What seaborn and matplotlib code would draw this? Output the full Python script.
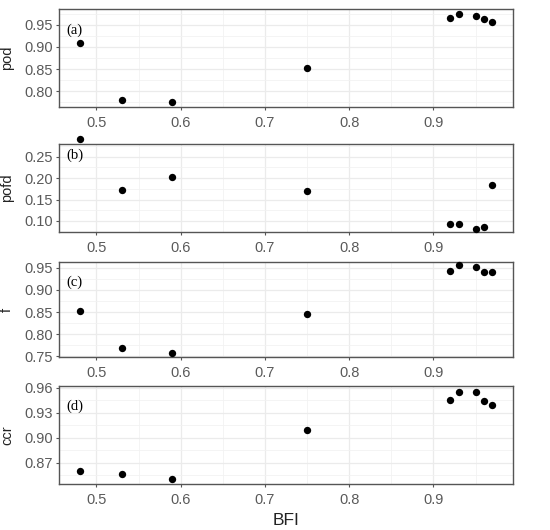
import matplotlib
matplotlib.use("Agg")
import matplotlib.pyplot as plt
import seaborn as sns
import pandas as pd
from matplotlib.ticker import MultipleLocator, FormatStrFormatter

# data
bfi = [0.48, 0.53, 0.59, 0.75, 0.92, 0.93, 0.95, 0.96, 0.97]
pod = [0.910, 0.780, 0.775, 0.852, 0.965, 0.975, 0.970, 0.963, 0.956]
pofd = [0.291, 0.172, 0.203, 0.169, 0.092, 0.092, 0.082, 0.087, 0.184]
f = [0.853, 0.768, 0.758, 0.846, 0.943, 0.955, 0.952, 0.940, 0.940]
ccr = [0.860, 0.857, 0.850, 0.909, 0.946, 0.955, 0.955, 0.944, 0.940]

df = pd.DataFrame({'BFI': bfi, 'pod': pod, 'pofd': pofd, 'f': f, 'ccr': ccr})

panels = ['pod', 'pofd', 'f', 'ccr']
tags = ['(a)', '(b)', '(c)', '(d)']
ylims = [(0.764, 0.986), (0.0736, 0.2796), (0.748, 0.9634), (0.844, 0.9624)]
ysteps = [0.05, 0.05, 0.05, 0.03]
tag_y = [0.786, 0.875, 0.788, 0.797]
# pixel rows of the panels (top, bottom)
rows = [(9, 107), (144, 232.3), (261.7, 357.3), (386, 484.3)]

sns.set_theme(style='white')
plt.rcParams['font.family'] = ['Liberation Sans', 'DejaVu Sans']

W, H = 550, 530
fig = plt.figure(figsize=(5.5, 5.3), dpi=100)

for i, col in enumerate(panels):
    top, bot = rows[i]
    ax = fig.add_axes([59 / W, 1 - bot / H, (513 - 59) / W, (bot - top) / H])
    sns.scatterplot(data=df, x='BFI', y=col, ax=ax, color='black', s=28,
                    edgecolor='black', linewidth=0, clip_on=False, zorder=5)
    ax.set_xlim(0.4555, 0.9945)
    ax.set_ylim(*ylims[i])
    ax.xaxis.set_major_locator(MultipleLocator(0.1))
    ax.xaxis.set_minor_locator(MultipleLocator(0.05))
    ax.yaxis.set_major_locator(MultipleLocator(ysteps[i]))
    ax.yaxis.set_minor_locator(MultipleLocator(ysteps[i] / 2))
    ax.xaxis.set_major_formatter(FormatStrFormatter('%.1f'))
    ax.yaxis.set_major_formatter(FormatStrFormatter('%.2f'))
    ax.grid(which='major', color='#EBEBEB', linewidth=0.9)
    ax.grid(which='minor', color='#F2F2F2', linewidth=0.6)
    ax.set_axisbelow(True)
    for sp in ax.spines.values():
        sp.set_color('#555555')
        sp.set_linewidth(1.0)
    ax.tick_params(which='major', length=2.5, width=0.8, color='#555555',
                   labelsize=10.5, labelcolor='#5a5a5a', pad=2,
                   bottom=True, left=True)
    ax.tick_params(axis='x', which='major', pad=4)
    ax.tick_params(which='minor', length=0)
    ax.set_ylabel(col, fontsize=10.5, color='#222222')
    ax.yaxis.set_label_coords(-0.099, 0.5)
    ax.text(0.035, tag_y[i], tags[i], transform=ax.transAxes, ha='center',
            va='center', fontsize=10.5, family='Liberation Serif', color='black')
    if i == 3:
        ax.set_xlabel('BFI', fontsize=12.5, color='#222222')
    else:
        ax.set_xlabel('')

fig.savefig('out.png', dpi=100)
